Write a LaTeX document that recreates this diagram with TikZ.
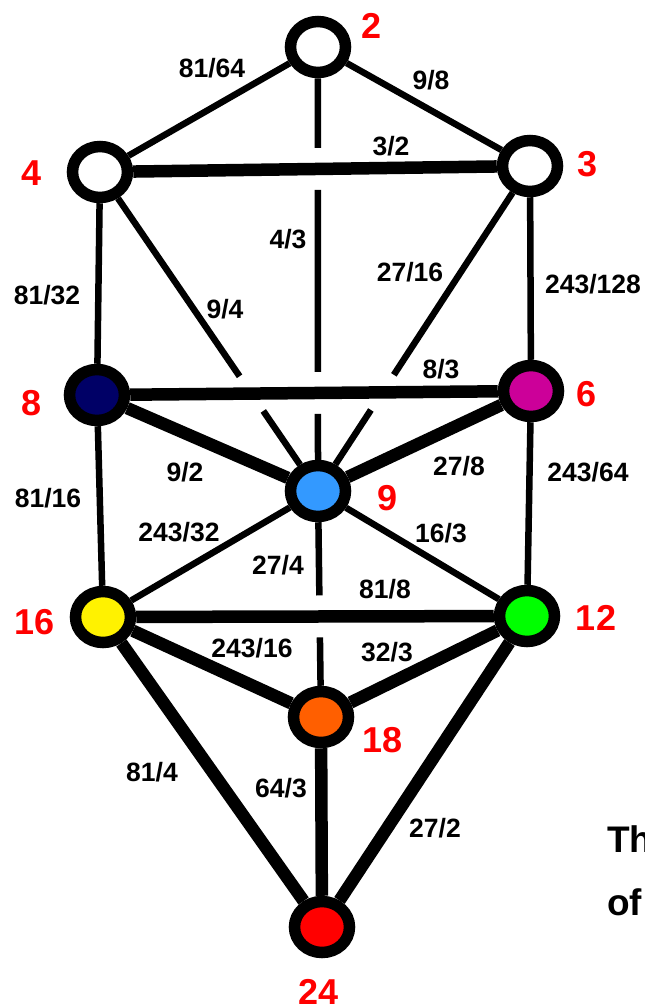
\documentclass[tikz,border=0pt]{standalone}
\usepackage{fontspec}
\setmainfont{Liberation Sans}
\usetikzlibrary{shapes.geometric,calc}

\definecolor{navy}{RGB}{0,0,102}
\definecolor{magent}{RGB}{204,0,153}
\definecolor{sky}{RGB}{51,153,255}
\definecolor{lime}{RGB}{0,255,0}
\definecolor{orng}{RGB}{255,95,0}
\definecolor{rd}{RGB}{255,0,0}

\tikzset{
	tone/.style={ellipse, draw=black, line width=11.5pt, minimum width=55pt, minimum height=51pt, inner sep=0pt},
	weak/.style={line width=6.5pt},
	strong/.style={line width=12.5pt},
	ratio/.style={inner sep=0pt, font=\bfseries\fontsize{26.5}{30}\selectfont},
	num/.style={inner sep=0pt, text=rd, font=\bfseries\fontsize{36}{40}\selectfont}
}

\newcommand{\gapw}{21pt}

\begin{document}
\begin{tikzpicture}[x=1pt,y=-1pt]

	\useasboundingbox (0,0) rectangle (645,1007);

	% tones
	\node[tone, fill=white] (n2) at (318,47) {};
	\node[tone, fill=white] (n4) at (100,172) {};
	\node[tone, fill=white] (n3) at (530,166) {};
	\node[tone, fill=navy] (n8) at (97,395) {};
	\node[tone, fill=magent] (n6) at (531,391) {};
	\node[tone, fill=sky] (n9) at (318,491) {};
	\node[tone, fill=yellow] (n16) at (103,617) {};
	\node[tone, fill=lime] (n12) at (527,616) {};
	\node[tone, fill=orng] (n18) at (321,717) {};
	\node[tone, fill=rd] (n24) at (322,927) {};

	% crossings
	\coordinate (c1) at (intersection of n2--n9 and n4--n3);
	\coordinate (c2) at (intersection of n2--n9 and n8--n6);
	\coordinate (c3) at (intersection of n4--n9 and n8--n6);
	\coordinate (c4) at (intersection of n3--n9 and n8--n6);
	\coordinate (c5) at (intersection of n9--n18 and n16--n12);

	% edges
	\draw[weak] (n2) -- (n4);
	\draw[weak] (n2) -- (n3);
	\draw[strong] (n4) -- (n3);
	\draw[weak] (n4) -- (n8);
	\draw[weak] (n3) -- (n6);
	\draw[strong] (n8) -- (n6);
	\draw[strong] (n8) -- (n9);
	\draw[strong] (n6) -- (n9);
	\draw[weak] (n8) -- (n16);
	\draw[weak] (n6) -- (n12);
	\draw[weak] (n9) -- (n16);
	\draw[weak] (n9) -- (n12);
	\draw[strong] (n16) -- (n12);
	\draw[strong] (n16) -- (n18);
	\draw[strong] (n12) -- (n18);
	\draw[strong] (n16) -- (n24);
	\draw[strong] (n12) -- (n24);
	\draw[strong] (n18) -- (n24);

	\draw[weak] (n2) -- ($(c1)!\gapw!(n2)$);
	\draw[weak] ($(c1)!\gapw!(n9)$) -- ($(c2)!\gapw!(n2)$);
	\draw[weak] ($(c2)!\gapw!(n9)$) -- (n9);
	\draw[weak] (n4) -- ($(c3)!\gapw!(n4)$);
	\draw[weak] ($(c3)!\gapw!(n9)$) -- (n9);
	\draw[weak] (n3) -- ($(c4)!\gapw!(n3)$);
	\draw[weak] ($(c4)!\gapw!(n9)$) -- (n9);
	\draw[weak] (n9) -- ($(c5)!\gapw!(n9)$);
	\draw[weak] ($(c5)!\gapw!(n18)$) -- (n18);

	% numbers
	\node[num] (t2) at (372,26) {2};
	\node[num] (t4) at (32,173) {4};
	\node[num] (t3) at (588,164) {3};
	\node[num] (t8) at (32,403) {8};
	\node[num] (t6) at (587,394) {6};
	\node[num] (t9) at (388,498) {9};
	\node[num] (t16) at (35,622) {16};
	\node[num] (t12) at (596,618) {12};
	\node[num] (t18) at (383,740) {18};
	\node[num] (t24) at (319,992) {24};

	% ratios
	\node[ratio] (r2-4) at (212,68) {81/64};
	\node[ratio] (r2-3) at (431,80) {9/8};
	\node[ratio] (r4-3) at (391,146) {3/2};
	\node[ratio] (r2-9) at (288,239) {4/3};
	\node[ratio] (r3-9) at (410,272) {27/16};
	\node[ratio] (r4-9) at (225,309) {9/4};
	\node[ratio] (r4-8) at (47,295) {81/32};
	\node[ratio] (r3-6) at (593,284) {243/128};
	\node[ratio] (r8-6) at (441,369) {8/3};
	\node[ratio] (r8-9) at (185,472) {9/2};
	\node[ratio] (r6-9) at (459,466) {27/8};
	\node[ratio] (r8-16) at (48,498) {81/16};
	\node[ratio] (r6-12) at (588,472) {243/64};
	\node[ratio] (r9-16) at (179,532) {243/32};
	\node[ratio] (r9-12) at (441,533) {16/3};
	\node[ratio] (r9-18) at (278,565) {27/4};
	\node[ratio] (r16-12) at (385,589) {81/8};
	\node[ratio] (r16-18) at (252,648) {243/16};
	\node[ratio] (r12-18) at (387,652) {32/3};
	\node[ratio] (r16-24) at (152,772) {81/4};
	\node[ratio] (r18-24) at (281,788) {64/3};
	\node[ratio] (r12-24) at (435,828) {27/2};

	% caption
	\node[inner sep=0pt, anchor=base west, font=\bfseries\fontsize{37}{40}\selectfont] (cap1) at (607,852) {Th};
	\node[inner sep=0pt, anchor=base west, font=\bfseries\fontsize{37}{40}\selectfont] (cap2) at (607,915) {of};

\end{tikzpicture}
\end{document}
